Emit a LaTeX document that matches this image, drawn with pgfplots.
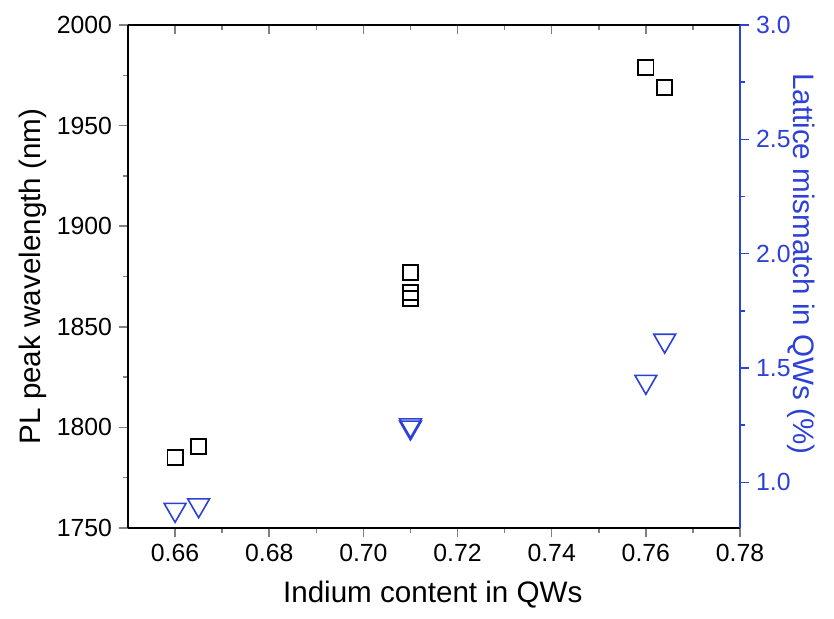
\documentclass[border=0pt]{standalone}
\usepackage{fontspec}
\setmainfont{Liberation Sans}
\usepackage{pgfplots}
\pgfplotsset{compat=1.18}
\definecolor{mmblue}{RGB}{45,65,215}

\begin{document}
\begin{tikzpicture}[x=1pt,y=1pt]
\pgfplotsset{
  every axis/.append style={
    scale only axis, width=306pt, height=251.5pt,
    at={(0,0)}, anchor=south west,
    xmin=0.65, xmax=0.78,
    xtick={0.66,0.68,0.70,0.72,0.74,0.76,0.78},
    minor x tick num=1,
    /pgf/number format/assume math mode=true,
    tick label style={font=\fontsize{12.4}{14}\selectfont},
    label style={font=\fontsize{14.8}{17}\selectfont},
    major tick length=4.5pt, minor tick length=2.5pt,
    axis line style={line width=0.75pt},
    every tick/.append style={line width=0.75pt},
    clip=false,
  },
}

% left axis: PL peak wavelength
\begin{axis}[
  axis x line*=bottom, axis y line*=left,
  tick align=outside,
  ymin=1750, ymax=2000,
  ytick={1750,1800,1850,1900,1950,2000},
  minor y tick num=1,
  x tick label style={/pgf/number format/.cd, fixed, fixed zerofill, precision=2},
  y tick label style={/pgf/number format/1000 sep={}},
  xlabel={Indium content in QWs},
  ylabel={PL peak wavelength (nm)},
  xlabel style={at={(axis description cs:0.498,-0.133)}, anchor=center},
  ylabel style={at={(axis description cs:-0.155,0.5)}, anchor=center},
]
\addplot[only marks, mark=square, mark size=3.8pt, black, line width=0.85pt]
  coordinates {
    (0.660,1785) (0.665,1790.5)
    (0.710,1877) (0.710,1867) (0.710,1864)
    (0.760,1979) (0.764,1969)
  };
\end{axis}

% top axis: inward ticks only
\begin{axis}[
  axis x line*=top, hide y axis,
  tick align=inside,
  ymin=0, ymax=1,
  xticklabels={},
]
\end{axis}

% right axis: lattice mismatch
\begin{axis}[
  axis y line*=right, hide x axis,
  tick align=outside,
  ymin=0.8, ymax=3.0,
  ytick={1.0,1.5,2.0,2.5,3.0},
  minor y tick num=1,
  y axis line style={mmblue},
  every y tick/.append style={mmblue},
  y tick label style={mmblue, /pgf/number format/.cd, fixed, fixed zerofill, precision=1},
  ylabel={Lattice mismatch in QWs (\%)},
  ylabel style={mmblue, rotate=180, at={(axis description cs:1.1,0.525)}, anchor=center},
]
\addplot[only marks, mark=triangle, mark options={rotate=180}, mark size=6.3pt, mmblue, line width=0.8pt]
  coordinates {
    (0.660,0.88) (0.665,0.90)
    (0.710,1.24) (0.710,1.25)
    (0.760,1.44) (0.764,1.62)
  };
\end{axis}

\pgfresetboundingbox
\useasboundingbox (-64,-45) rectangle (353,264);
\end{tikzpicture}
\end{document}
